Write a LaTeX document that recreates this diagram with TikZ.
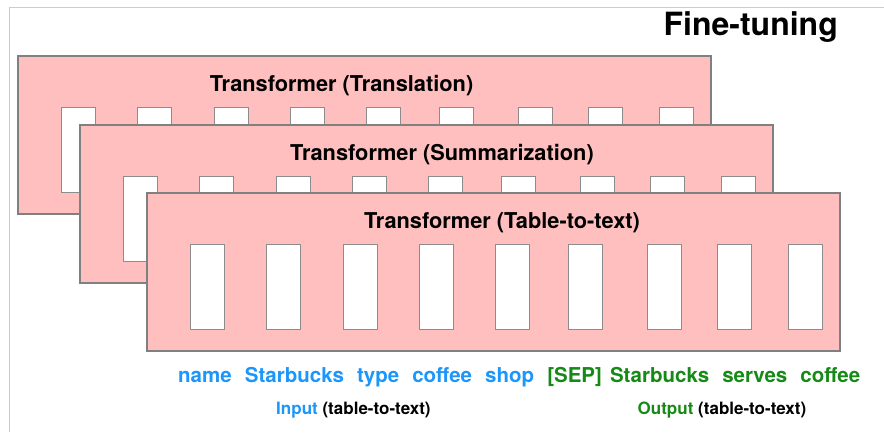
\documentclass[tikz,border=0pt]{standalone}
\usepackage{fontspec}
\setmainfont{TeX Gyre Heros}
\usetikzlibrary{positioning}
\definecolor{layerpink}{RGB}{255,191,191}
\definecolor{tokblue}{RGB}{28,150,250}
\definecolor{tokgreen}{RGB}{22,138,22}

\begin{document}
\begin{tikzpicture}[x=1pt, y=-1pt,
    layer/.style={draw=black!50, fill=layerpink, line width=2pt},
    slot/.style={draw=black!45, fill=white, line width=1pt},
    title/.style={font=\fontsize{21.8}{24}\selectfont\bfseries, anchor=base, inner sep=0pt},
    word/.style={font=\fontsize{20.5}{24}\selectfont\bfseries, inner sep=0pt},
    note/.style={font=\fontsize{17}{20}\selectfont\bfseries, anchor=base west, inner sep=0pt}]
    \useasboundingbox (0,0) rectangle (884,432);
    \draw[black!20, line width=1pt] (9,432) -- (9,7) -- (884,7);
    \node[font=\fontsize{32}{36}\selectfont\bfseries, anchor=base east, inner sep=0pt] (finetune) at (838,35) {Fine-tuning};

    % Translation
    \begin{scope}[shift={(18,56)}]
        \draw[layer] (0,0) rectangle (693,158);
        \foreach \x in {43,119,196,272,348,421.5,500.5,570,641}{
            \draw[slot] (\x,51.5) rectangle ++(34,85);
        }
        \node[title] (translation) at (323.6,35.5) {Transformer (Translation)};
    \end{scope}

    % Summarization
    \begin{scope}[shift={(80,125)}]
        \draw[layer] (0,0) rectangle (693,158);
        \foreach \x in {43,119,196,272,348,421.5,500.5,570,641}{
            \draw[slot] (\x,51.5) rectangle ++(34,85);
        }
        \node[title] (summarization) at (362,35.5) {Transformer (Summarization)};
    \end{scope}

    % Table-to-text
    \begin{scope}[shift={(147,193)}]
        \draw[layer] (0,0) rectangle (693,158);
        \foreach \x in {43,119,196,272,348,421.5,500.5,570,641}{
            \draw[slot] (\x,51.5) rectangle ++(34,85);
        }
        \node[title] (tabletotext) at (355,35) {Transformer (Table-to-text)};
    \end{scope}

    % tokens
    \node[word, text=tokblue, anchor=base west] (w1) at (178,382) {name};
    \node[word, text=tokblue, base right=12.7pt of w1] (w2) {Starbucks};
    \node[word, text=tokblue, base right=12.7pt of w2] (w3) {type};
    \node[word, text=tokblue, base right=12.7pt of w3] (w4) {coffee};
    \node[word, text=tokblue, base right=12.7pt of w4] (w5) {shop};
    \node[word, text=tokgreen, base right=12.7pt of w5] (w6) {[SEP]};
    \node[word, text=tokgreen, base right=7.7pt of w6] (w7) {Starbucks};
    \node[word, text=tokgreen, base right=12.7pt of w7] (w8) {serves};
    \node[word, text=tokgreen, base right=12.7pt of w8] (w9) {coffee};

    \node[note] (inlabel) at (276,414) {\textcolor{tokblue}{Input} (table-to-text)};
    \node[note] (outlabel) at (637.5,414) {\textcolor{tokgreen}{Output} (table-to-text)};
\end{tikzpicture}
\end{document}
